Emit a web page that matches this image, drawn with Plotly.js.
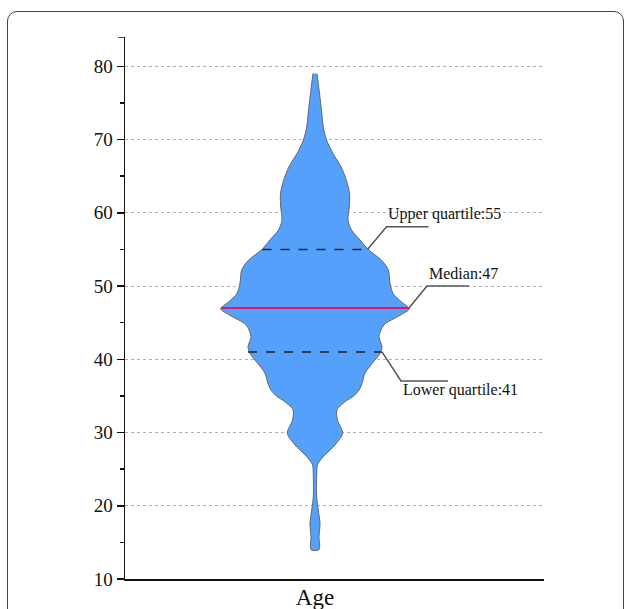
<!DOCTYPE html>
<html>
<head>
<meta charset="utf-8">
<script src="https://cdn.plot.ly/plotly-3.0.1.min.js"></script>
<style>
  html, body { margin: 0; padding: 0; background: #fff; }
  #wrap { position: relative; width: 627px; height: 609px; overflow: hidden; }
  #frame { position: absolute; left: 7px; top: 11px; width: 615px; height: 640px;
           border: 1px solid #444; border-radius: 10px; pointer-events: none; }
  #chart { position: absolute; left: 0; top: 0; width: 627px; height: 609px; }
</style>
</head>
<body>
<div id="wrap">
  <div id="chart"></div>
  <div id="frame"></div>
</div>
<script>
// Violin outline: age value and half-width of the density (px units)
const ages = [79.0, 78.0, 76.3, 74.0, 71.7, 69.9, 68.1, 66.3, 64.4, 62.6, 60.8, 59.0, 57.6, 56.3, 55.0,
              53.5, 52.2, 50.4, 49.0, 47.8, 46.9, 46.0, 44.7, 43.1, 41.7, 40.8, 39.4, 38.1, 36.7, 35.8,
              34.9, 34.4, 33.1, 31.7, 29.9, 28.3, 26.7, 25.6, 24.0, 21.2, 19.4, 17.6, 15.8, 14.0];
const halfWidth = [2, 3, 4.5, 6.5, 8.3, 11.7, 18, 26, 31.5, 34.5, 34.3, 33, 36.7, 45, 53,
                   66.7, 73.3, 75, 78, 86.7, 94.3, 85, 69, 64, 67, 65, 57, 50, 47, 44,
                   38, 32, 22, 22.5, 27.7, 20, 8.3, 2.5, 1.7, 1.7, 3.3, 5, 4, 4];

const category = ['Age'];
const statNames = ['Upper quartile', 'Median', 'Lower quartile'];
const statValues = [55, 47, 41];
const statHalfWidth = [52.5, 94, 67];

const xs = halfWidth.concat(halfWidth.slice().reverse().map(v => -v));
const ys = ages.concat(ages.slice().reverse());

const traces = [{
  type: 'scatter', mode: 'lines', x: xs, y: ys,
  fill: 'toself', fillcolor: 'rgb(84,160,250)',
  line: {color: '#666', width: 1, shape: 'spline', smoothing: 0.8},
  hoverinfo: 'skip', showlegend: false
}];

// quartile / median lines
const statColors = ['#222', 'rgb(228,20,110)', '#222'];
const statDash = ['dash', 'solid', 'dash'];
statValues.forEach((v, i) => {
  traces.push({
    type: 'scatter', mode: 'lines',
    x: [-statHalfWidth[i], statHalfWidth[i]], y: [v, v],
    line: {color: statColors[i], width: i === 1 ? 2 : 1.5, dash: statDash[i]},
    hoverinfo: 'skip', showlegend: false
  });
});

// callout leader lines
const calloutDx = [19, 18, 19];
const calloutDy = [3.1, 3.0, -3.95];
const calloutLen = [42, 42, 47];
const shapes = [];
const annotations = [];
statValues.forEach((v, i) => {
  const x0 = statHalfWidth[i], x1 = x0 + calloutDx[i], y1 = v + calloutDy[i];
  shapes.push({type: 'path', xref: 'x', yref: 'y',
    path: `M ${x0} ${v} L ${x1} ${y1} L ${x1 + calloutLen[i]} ${y1}`,
    line: {color: '#555', width: 1.5}});
  const ty = i === 2 ? y1 - 1.3 : y1 + 1.75;
  annotations.push({xref: 'x', yref: 'y', x: x1 - 0.5, y: ty, xanchor: 'left', yanchor: 'middle',
    text: statNames[i] + ':' + v, showarrow: false,
    font: {family: 'Liberation Serif, Times New Roman, serif', size: 16, color: '#111'}});
});
// small cap tick at the top of the y axis
shapes.push({type: 'line', xref: 'paper', yref: 'y', x0: -7 / 419, x1: 0, y0: 84, y1: 84,
  line: {color: '#111', width: 1.5}});

const layout = {
  width: 627, height: 609,
  margin: {l: 125, r: 83, t: 37, b: 30},
  paper_bgcolor: '#fff', plot_bgcolor: '#fff',
  font: {family: 'Liberation Serif, Times New Roman, serif', color: '#111'},
  xaxis: {
    range: [-190, 229], showgrid: false, zeroline: false,
    showline: true, linecolor: '#111', linewidth: 1.5,
    tickvals: [0], ticktext: category, ticks: '',
    ticklabelstandoff: -3,
    tickfont: {size: 23, family: 'Liberation Serif, Times New Roman, serif', color: '#111'},
    fixedrange: true
  },
  yaxis: {
    range: [10, 84], tick0: 10, dtick: 10,
    showline: true, linecolor: '#111', linewidth: 1.5,
    ticks: 'outside', ticklen: 7, tickwidth: 1.5, tickcolor: '#111',
    tickfont: {size: 19, family: 'Liberation Serif, Times New Roman, serif', color: '#111'},
    showgrid: true, gridcolor: '#b0b0b0', griddash: 'dot', gridwidth: 1,
    zeroline: false,
    minor: {dtick: 5, tick0: 10, ticks: 'outside', ticklen: 4, tickwidth: 1.5, tickcolor: '#111', showgrid: false},
    fixedrange: true
  },
  shapes: shapes,
  annotations: annotations,
  showlegend: false
};

Plotly.newPlot('chart', traces, layout, {staticPlot: true, displayModeBar: false});
</script>
</body>
</html>
